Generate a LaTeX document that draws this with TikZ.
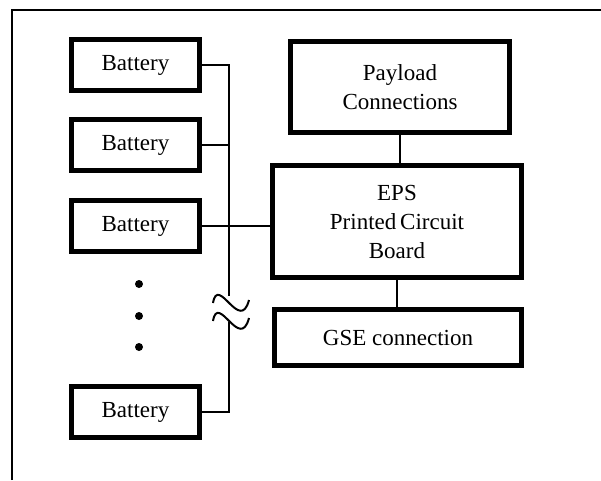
\documentclass[tikz,border=0pt]{standalone}
\usepackage{fontspec}
\setmainfont{Liberation Serif}
\usetikzlibrary{positioning}

\begin{document}
\begin{tikzpicture}[
    x=1pt, y=-1pt,
    every node/.style={font=\fontsize{23}{29}\selectfont},
    blockbox/.style={draw=black, line width=5pt, align=center, inner sep=0pt},
    wire/.style={line width=2pt},
]
\useasboundingbox (0,0) rectangle (601,480);

% === Outer frame (cut off at right and bottom) ===
\draw[line width=2pt] (12,480) -- (12,10) -- (601,10);

% === Battery stack ===
\node[blockbox, minimum width=128pt, minimum height=51pt] (bat1) at (135.5,65) {Battery};
\node[blockbox, minimum width=128pt, minimum height=51pt] (bat2) at (135.5,145) {Battery};
\node[blockbox, minimum width=128pt, minimum height=51pt] (bat3) at (135.5,226) {Battery};
\node[blockbox, minimum width=128pt, minimum height=51pt] (bat4) at (135.5,412) {Battery};

% dots for the omitted batteries
\foreach \ydot in {284, 316, 347} {
    \fill (139,\ydot) circle (4pt);
}

% === EPS side ===
\node[blockbox, minimum width=219pt, minimum height=91pt] (payload) at (400,87) {Payload\\Connections};
\node[blockbox, minimum width=249pt, minimum height=112pt] (eps) at (397,221.5) {EPS\\Printed\,Circuit\\Board};
\node[blockbox, minimum width=247pt, minimum height=56pt] (gse) at (398,337.5) {GSE connection};

% === Battery bus ===
\coordinate (bustop) at (229,65);
\coordinate (busbreakA) at (229,296);
\coordinate (busbreakB) at (229,322);
\coordinate (busbot) at (229,412);

\draw[wire] (bat1.east) -- (bustop) -- (busbreakA);
\draw[wire] (busbreakB) -- (busbot) -- (bat4.east);
\draw[wire] (bat2.east) -- (bat2.east -| bustop);
\draw[wire] (bat3.east) -- (bat3.east -| eps.west);

% break marks on the bus
\foreach \ybrk in {0, 18} {
    \draw[wire] (213,{303+\ybrk}) .. controls (218,{274+\ybrk}) and (240,{334+\ybrk}) .. (249,{300+\ybrk});
}

% === Links to the board ===
\draw[wire] (payload.south) -- (payload.south |- eps.north);
\draw[wire] (eps.south) -- (eps.south |- gse.north);

\end{tikzpicture}
\end{document}
